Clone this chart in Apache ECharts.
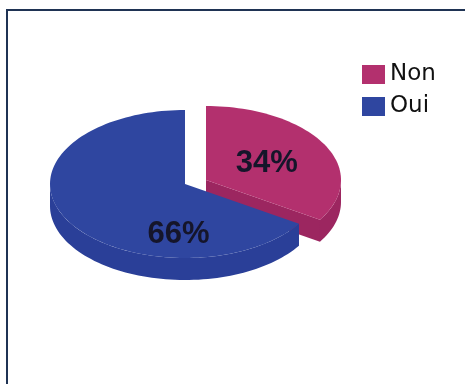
<!DOCTYPE html>
<html>
<head>
<meta charset="utf-8">
<script src="https://cdn.jsdelivr.net/npm/echarts@6/dist/echarts.min.js"></script>
<style>
  html, body { margin: 0; padding: 0; background: #ffffff; }
  #chart { width: 465px; height: 384px; }
</style>
</head>
<body>
<div id="chart"></div>
<script>
// Answers and their shares (percent)
const categories = ['Non', 'Oui'];
const shares = [34, 66];

// Colours: top face and slightly darker side wall per slice
const topColors = ['#b3306e', '#2f46a0'];
const sideColors = ['#9c2660', '#2a3f98'];

// Layout of the tilted pie (pixels)
const pie = { cx: 185, cy: 184, rx: 135, ry: 74, depth: 22 };
const explodeOffset = [[21, -4], [0, 0]];
const labelPlace = [{ angle: 64, r: 0.5 }, { angle: 184, r: 0.68 }];

const total = shares.reduce((a, b) => a + b, 0);
const startAngles = [];
let acc = 0;
shares.forEach(v => { startAngles.push(acc / total * 360); acc += v; });

const rad = d => d * Math.PI / 180;
// point on the ellipse, angle measured clockwise from 12 o'clock
function pt(cx, cy, a, r, dy) {
  return [cx + pie.rx * r * Math.sin(rad(a)), cy - pie.ry * r * Math.cos(rad(a)) + (dy || 0)];
}
function arc(cx, cy, a0, a1, dy) {
  const pts = [];
  const n = Math.max(2, Math.ceil(Math.abs(a1 - a0) / 2));
  for (let i = 0; i <= n; i++) pts.push(pt(cx, cy, a0 + (a1 - a0) * i / n, 1, dy));
  return pts;
}

function renderSlice(idx) {
  return function (params, api) {
    const value = api.value(0);
    const a0 = startAngles[idx];
    const a1 = a0 + value / total * 360;
    const cx = pie.cx + explodeOffset[idx][0];
    const cy = pie.cy + explodeOffset[idx][1];
    const d = pie.depth;
    const children = [];

    // radial cut face at the clockwise end, facing the viewer when sin > 0
    if (Math.sin(rad(a1)) > 0.01) {
      const e = pt(cx, cy, a1, 1);
      children.push({
        type: 'polygon',
        shape: { points: [[cx, cy], e, [e[0], e[1] + d], [cx, cy + d]] },
        style: { fill: sideColors[idx] }
      });
    }
    // radial cut face at the start, facing the viewer when sin < 0
    if (Math.sin(rad(a0)) < -0.01) {
      const e = pt(cx, cy, a0, 1);
      children.push({
        type: 'polygon',
        shape: { points: [[cx, cy], e, [e[0], e[1] + d], [cx, cy + d]] },
        style: { fill: sideColors[idx] }
      });
    }
    // outer wall on the front half (90..270 degrees)
    const w0 = Math.max(a0, 90), w1 = Math.min(a1, 270);
    if (w1 > w0) {
      const top = arc(cx, cy, w0, w1, 0);
      const bottom = arc(cx, cy, w0, w1, d).reverse();
      children.push({
        type: 'polygon',
        shape: { points: top.concat(bottom) },
        style: { fill: sideColors[idx] }
      });
    }
    // top face
    children.push({
      type: 'polygon',
      shape: { points: [[cx, cy]].concat(arc(cx, cy, a0, a1, 0)) },
      style: { fill: topColors[idx] }
    });
    // percentage label
    const lp = pt(cx, cy, labelPlace[idx].angle, labelPlace[idx].r);
    children.push({
      type: 'text',
      x: lp[0], y: lp[1],
      style: {
        text: Math.round(value / total * 100) + '%',
        fill: '#15152a',
        font: 'bold 31px "Liberation Sans", Arial, sans-serif',
        align: 'center',
        verticalAlign: 'middle'
      }
    });
    return { type: 'group', children: children };
  };
}

const chart = echarts.init(document.getElementById('chart'), null, { renderer: 'canvas' });
chart.setOption({
  backgroundColor: '#ffffff',
  animation: false,
  graphic: [{
    type: 'rect',
    shape: { x: 7, y: 10, width: 470, height: 400 },
    style: { fill: 'none', stroke: '#1f3354', lineWidth: 2 },
    silent: true
  }],
  legend: {
    orient: 'vertical',
    left: 357,
    top: 58,
    icon: 'rect',
    itemWidth: 23,
    itemHeight: 19,
    itemGap: 9,
    data: categories,
    textStyle: { fontFamily: '"DejaVu Sans", Verdana, sans-serif', fontSize: 23, color: '#111111', padding: [0, 0, 0, 0] }
  },
  series: categories.map((name, i) => ({
    type: 'custom',
    name: name,
    coordinateSystem: 'none',
    itemStyle: { color: topColors[i] },
    renderItem: renderSlice(i),
    data: [[shares[i]]]
  }))
});
</script>
</body>
</html>
